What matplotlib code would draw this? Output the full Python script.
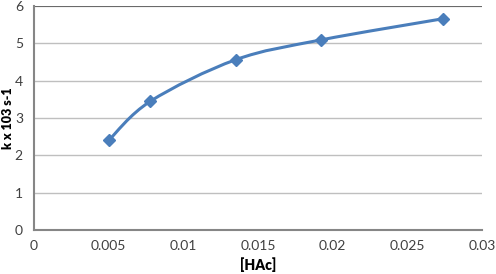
import matplotlib

matplotlib.use("Agg")
import matplotlib.pyplot as plt
import numpy as np
from matplotlib.path import Path
from matplotlib.patches import PathPatch

# data
hac = [0.005, 0.0078, 0.0135, 0.0192, 0.0274]
k = [2.40, 3.45, 4.56, 5.09, 5.66]

x_ticks = [0, 0.005, 0.01, 0.015, 0.02, 0.025, 0.03]
x_labels = ["0", "0.005", "0.01", "0.015", "0.02", "0.025", "0.03"]
y_ticks = [0, 1, 2, 3, 4, 5, 6]

LINE = "#4A7EBB"
plt.rcParams["font.family"] = ["Lato", "DejaVu Sans"]


def smooth_path(xs, ys):
    # Excel-like smoothed line: cubic Bezier through the points
    pts = np.column_stack([xs, ys])
    n = len(pts)
    verts = [pts[0]]
    codes = [Path.MOVETO]
    for i in range(n - 1):
        p0 = pts[max(i - 1, 0)]
        p1 = pts[i]
        p2 = pts[i + 1]
        p3 = pts[min(i + 2, n - 1)]
        c1 = p1 + (p2 - p0) / 6
        c2 = p2 - (p3 - p1) / 6
        verts += [c1, c2, p2]
        codes += [Path.CURVE4] * 3
    return Path(verts, codes)


fig = plt.figure(figsize=(4.96, 2.74), dpi=100)
ax = fig.add_axes([34 / 496, 44 / 274, 448 / 496, 224 / 274])

ax.add_patch(PathPatch(smooth_path(hac, k), fill=False, edgecolor=LINE, lw=2.2,
                       capstyle="round", zorder=3))
ax.plot(hac, k, ls="", marker="D", ms=6.5, color=LINE, zorder=4)

ax.set_xlim(0, 0.03)
ax.set_ylim(0, 6)
ax.set_xticks(x_ticks)
ax.set_xticklabels(x_labels)
ax.set_yticks(y_ticks)
ax.grid(axis="y", color="#BFBFBF", lw=1)
ax.set_axisbelow(True)
ax.axhline(6, color="#595959", lw=1.2, zorder=1)
ax.tick_params(length=0, labelsize=10, colors="#404040", pad=8)
ax.tick_params(axis="x", pad=7)

for side in ("top", "right"):
    ax.spines[side].set_visible(False)
for side in ("left", "bottom"):
    ax.spines[side].set_color("#868686")
    ax.spines[side].set_linewidth(1.5)

ax.set_xlabel("[HAc]", fontsize=10, fontweight="heavy", labelpad=4)
fig.text(8 / 496, 1 - 118 / 274, "k x 103 s-1", rotation=90, fontsize=9,
         fontweight="heavy", ha="center", va="center")

fig.savefig("out.png", dpi=100)
